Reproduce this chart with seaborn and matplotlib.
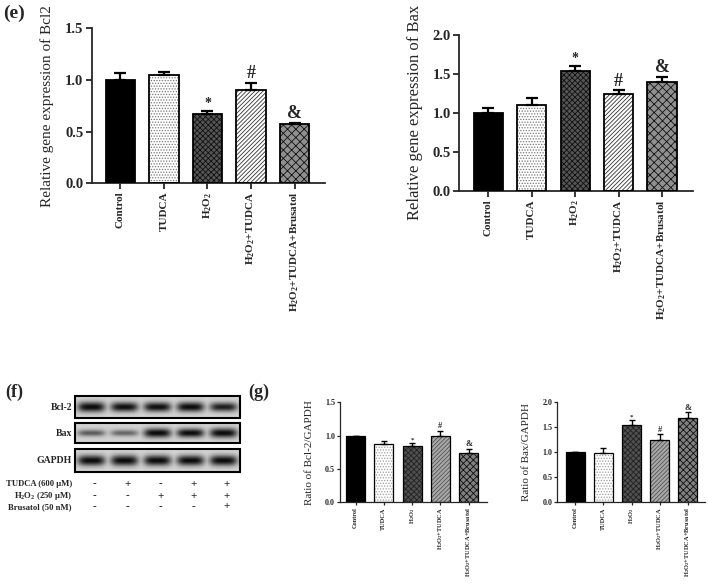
import numpy as np
import pandas as pd
import matplotlib
matplotlib.use('Agg')
import matplotlib.pyplot as plt
from matplotlib.patches import Rectangle
import seaborn as sns

# ---------------- data ----------------
groups = ['Control', 'TUDCA', 'H$_2$O$_2$', 'H$_2$O$_2$+TUDCA', 'H$_2$O$_2$+TUDCA+Brusatol']

bcl2_mrna = [1.00, 1.05, 0.67, 0.90, 0.57]
bcl2_mrna_err = [0.065, 0.03, 0.03, 0.07, 0.015]
bax_mrna = [1.00, 1.10, 1.54, 1.24, 1.39]
bax_mrna_err = [0.06, 0.09, 0.065, 0.05, 0.07]

bcl2_ratio = [1.00, 0.88, 0.84, 1.00, 0.74]
bcl2_ratio_err = [0.0, 0.04, 0.05, 0.075, 0.06]
bax_ratio = [1.00, 0.99, 1.54, 1.24, 1.69]
bax_ratio_err = [0.0, 0.10, 0.10, 0.12, 0.11]

sig_marks = ['', '', '*', '#', '&']

blot_proteins = ['Bcl-2', 'Bax', 'GAPDH']
blot_bcl2 = [0.95, 0.85, 0.85, 0.88, 0.78]
blot_bax = [0.50, 0.45, 0.95, 0.88, 1.00]
blot_gapdh = [0.92, 0.95, 0.92, 0.90, 0.92]

treat_labels = ['TUDCA (600 \u03bcM)', 'H$_2$O$_2$ (250 \u03bcM)', 'Brusatol (50 nM)']
treat_tudca = ['-', '+', '-', '+', '+']
treat_h2o2 = ['-', '-', '+', '+', '+']
treat_brus = ['-', '-', '-', '-', '+']

# ---------------- style ----------------
sns.set_style('ticks')
plt.rcParams['font.family'] = ['Liberation Serif', 'DejaVu Serif']
plt.rcParams['mathtext.default'] = 'regular'
plt.rcParams['hatch.linewidth'] = 0.6

W, H = 708, 586
fig = plt.figure(figsize=(W / 100, H / 100), dpi=100)


def px_axes(l, t, r, b):
    return fig.add_axes([l / W, 1 - b / H, (r - l) / W, (b - t) / H])


# background overlay axes in pixel coords for panel (f)
ax_bg = fig.add_axes([0, 0, 1, 1])
ax_bg.set_xlim(0, W)
ax_bg.set_ylim(H, 0)
ax_bg.axis('off')
ax_bg.patch.set_alpha(0)

styles_e = [
    dict(fc='black', hatch=None, hc='black'),
    dict(fc='white', hatch='......', hc='#777777'),
    dict(fc='#555555', hatch='xxxxxx', hc='#111111'),
    dict(fc='white', hatch='////////', hc='#333333'),
    dict(fc='#909090', hatch='xxxx', hc='#111111'),
]
styles_g = [
    dict(fc='black', hatch=None, hc='black'),
    dict(fc='white', hatch='......', hc='#a0a0a0'),
    dict(fc='#505050', hatch='xxxxxx', hc='#222222'),
    dict(fc='#a8a8a8', hatch='////////', hc='#555555'),
    dict(fc='#808080', hatch='xxxxx', hc='#111111'),
]


def bar_panel(ax, values, errs, styles, ymax, xlim, ylabel, label_x, big=True):
    df = pd.DataFrame({'group': groups, 'value': values})
    sns.barplot(data=df, x='group', y='value', order=groups, width=0.67,
                errorbar=None, color='white', ax=ax, zorder=2)
    bars = ax.patches[:len(values)]
    lw = 1.3 if big else 0.9
    for p, st in zip(bars, styles):
        p.set_facecolor(st['fc'])
        p.set_edgecolor(st['hc'])
        p.set_linewidth(0)
        if st['hatch']:
            p.set_hatch(st['hatch'])
        ax.add_patch(Rectangle(p.get_xy(), p.get_width(), p.get_height(),
                               fill=False, ec='black', lw=lw, zorder=3))
    xs = [p.get_x() + p.get_width() / 2 for p in bars]
    ax.errorbar(xs, values, yerr=[np.zeros(len(values)), errs], fmt='none',
                ecolor='black', elinewidth=1.6 if big else 1.0,
                capsize=4.5 if big else 2.5, capthick=1.6 if big else 1.0, zorder=4)
    for x, v, e, s in zip(xs, values, errs, sig_marks):
        if s:
            fs = (10 if s == '*' else 13) if big else (5 if s == '*' else 6)
            ax.annotate(s, (x, v + e), xytext=(0, 0.5), textcoords='offset points',
                        ha='center', va='bottom', fontsize=fs, fontweight='bold')
    ax.set_xlim(*xlim)
    ax.set_ylim(0, ymax)
    ax.set_yticks(np.arange(0, ymax + 0.01, 0.5))
    ax.yaxis.set_major_formatter('{x:.1f}')
    ax.set_xticks(range(len(groups)))
    ax.set_xticklabels(groups, rotation=90, fontweight='bold',
                       fontsize=8 if big else 4.6)
    for t in ax.get_yticklabels():
        t.set_fontweight('bold')
        t.set_fontsize(10.5 if big else 5.8)
    ax.set_xlabel('')
    ax.set_ylabel(ylabel, fontsize=(11 if big else 8))
    ax.yaxis.set_label_coords(label_x, 0.5)
    sns.despine(ax=ax)
    for sp in ['left', 'bottom']:
        ax.spines[sp].set_linewidth(1.3 if big else 0.9)
    ax.tick_params(axis='both', direction='out', length=4 if big else 2.5,
                   width=1.3 if big else 0.9, pad=2 if big else 1)
    ax.set_facecolor('none')


# panel (e)
ax1 = px_axes(91.7, 28.3, 325, 183.3)
bar_panel(ax1, bcl2_mrna, bcl2_mrna_err, styles_e, 1.5, (-0.66, 4.70),
          'Relative gene expression of Bcl2', -0.16)
ax2 = px_axes(459, 35, 693.3, 190.7)
bar_panel(ax2, bax_mrna, bax_mrna_err, styles_e, 2.0, (-0.675, 4.72),
          'Relative gene expression of Bax', -0.155)
ax2.yaxis.label.set_fontsize(12)

# panel (g)
ax3 = px_axes(340, 402.3, 487, 502.3)
bar_panel(ax3, bcl2_ratio, bcl2_ratio_err, styles_g, 1.5, (-0.55, 4.65),
          'Ratio of Bcl-2/GAPDH', -0.18, big=False)
ax4 = px_axes(557.3, 402.3, 705, 502.3)
bar_panel(ax4, bax_ratio, bax_ratio_err, styles_g, 2.0, (-0.64, 4.61),
          'Ratio of Bax/GAPDH', -0.18, big=False)

# panel (f): western blot
blot_rows = [blot_bcl2, blot_bax, blot_gapdh]
row_boxes = [(396, 418), (423, 443), (449, 472)]
bx0, bx1 = 75, 240
nx, ny = 40, 30
xx = np.linspace(-0.5, 0.5, nx)
yy = np.linspace(-1, 1, ny)
for name, intens, (t, b) in zip(blot_proteins, blot_rows, row_boxes):
    lanes = []
    for I in intens:
        px_ = np.exp(-(np.abs(xx) / 0.42) ** 4)
        sy = 0.18 + 0.30 * I
        py_ = np.exp(-(yy / sy) ** 2)
        lanes.append(min(1.0, 1.15 * I) * np.outer(py_, px_))
    dark = np.concatenate(lanes, axis=1)
    bgv = 0.78 + 0.06 * np.abs(yy)[:, None]
    img = bgv - (bgv - 0.04) * dark
    ax_bg.imshow(img, cmap='gray', vmin=0, vmax=1, extent=(bx0, bx1, b, t),
                 interpolation='bilinear', aspect='auto', zorder=1)
    ax_bg.add_patch(Rectangle((bx0, t), bx1 - bx0, b - t, fill=False, ec='black', lw=1.5, zorder=2))
    ax_bg.text(72, (t + b) / 2, name, ha='right', va='center', fontsize=7, fontweight='bold')
ax_bg.set_xlim(0, W)
ax_bg.set_ylim(H, 0)

lane_w = (bx1 - bx0) / 5
treat_rows = [treat_tudca, treat_h2o2, treat_brus]
row_y = [484, 496, 507]
for lab, signs, y in zip(treat_labels, treat_rows, row_y):
    ax_bg.text(72, y, lab, ha='right', va='center', fontsize=6.2, fontweight='bold')
    for i, s in enumerate(signs):
        ax_bg.text(bx0 + lane_w * (i + 0.5) + 3, y, s, ha='center', va='center',
                   fontsize=8, fontweight='bold')

# panel letters
fig.text(3 / W, 1 - 13 / H, '(e)', fontsize=14, fontweight='bold', ha='left', va='center')
fig.text(5 / W, 1 - 392 / H, '(f)', fontsize=13, fontweight='bold', ha='left', va='center')
fig.text(248 / W, 1 - 392 / H, '(g)', fontsize=13, fontweight='bold', ha='left', va='center')

fig.savefig('out.png', dpi=100)
